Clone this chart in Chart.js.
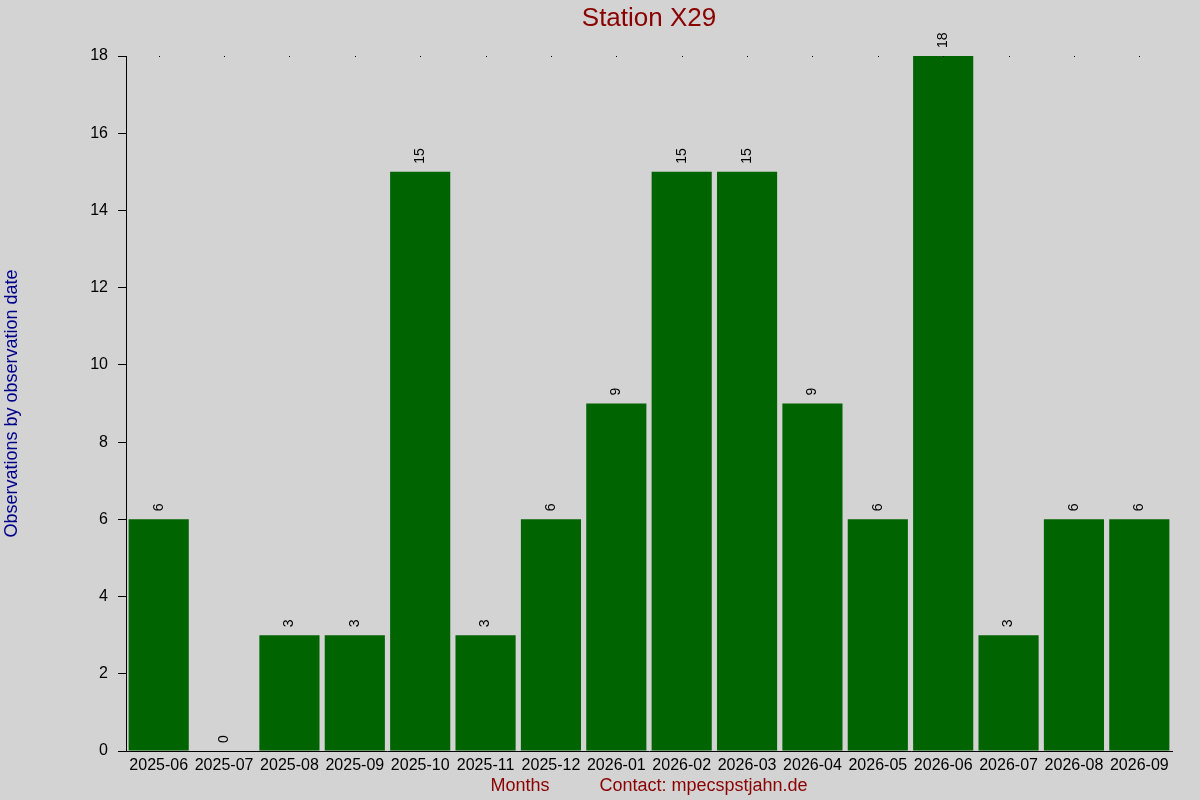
<!DOCTYPE html>
<html>
<head>
<meta charset="utf-8">
<title>Station X29</title>
<script src="https://cdn.jsdelivr.net/npm/chart.js@4.4.1/dist/chart.umd.min.js"></script>
<style>
  html, body { margin: 0; padding: 0; background: #d3d3d3; }
  #wrap { width: 1200px; height: 800px; }
</style>
</head>
<body>
<div id="wrap"><canvas id="myChart" width="1200" height="800"></canvas></div>
<script>
const months = ['2025-06', '2025-07', '2025-08', '2025-09', '2025-10', '2025-11', '2025-12', '2026-01',
                '2026-02', '2026-03', '2026-04', '2026-05', '2026-06', '2026-07', '2026-08', '2026-09'];
const observations = [6, 0, 3, 3, 15, 3, 6, 9, 15, 15, 9, 6, 18, 3, 6, 6];
const yTicks = [0, 2, 4, 6, 8, 10, 12, 14, 16, 18];

const FONT = '"Liberation Sans", Arial, sans-serif';

// value labels turned on their side above each bar
const barLabels = {
  id: 'barLabels',
  afterDatasetsDraw(chart) {
    const c = chart.ctx;
    const meta = chart.getDatasetMeta(0);
    c.save();
    c.fillStyle = '#000';
    c.font = '14px ' + FONT;
    c.textAlign = 'left';
    c.textBaseline = 'middle';
    meta.data.forEach((bar, i) => {
      c.save();
      c.translate(bar.x, bar.y - 8);
      c.rotate(-Math.PI / 2);
      c.fillText(String(observations[i]), 0, 0);
      c.restore();
    });
    c.restore();
  }
};

// little dots along the top edge, one per month, plus the x axis line running under the 0 tick
const axisBits = {
  id: 'axisBits',
  afterDraw(chart) {
    const c = chart.ctx;
    const x = chart.scales.x;
    const area = chart.chartArea;
    c.save();
    c.fillStyle = '#000';
    months.forEach((m, i) => {
      c.fillRect(Math.round(x.getPixelForValue(i)), Math.round(area.top), 1, 1);
    });
    c.fillRect(Math.round(area.left) - 8, Math.round(area.bottom), 8, 1);
    c.restore();
  }
};

new Chart(document.getElementById('myChart'), {
  type: 'bar',
  data: {
    labels: months,
    datasets: [{
      data: observations,
      backgroundColor: '#006400',
      borderWidth: 0,
      barPercentage: 0.92,
      categoryPercentage: 1.0
    }]
  },
  options: {
    responsive: false,
    animation: false,
    devicePixelRatio: 1,
    layout: { padding: { left: 0, right: 28, top: 0, bottom: 0 } },
    plugins: {
      legend: { display: false },
      tooltip: { enabled: false },
      title: {
        display: true,
        text: 'Station X29',
        color: '#8b0000',
        fullSize: false,
        font: { family: FONT, size: 26, weight: 'normal' },
        padding: { top: 3, bottom: 21.8 }
      }
    },
    scales: {
      x: {
        grid: { display: false, drawTicks: false },
        border: { display: true, color: '#000', width: 1 },
        ticks: {
          color: '#000',
          padding: 5,
          maxRotation: 0,
          autoSkip: false,
          font: { family: FONT, size: 16 }
        },
        title: {
          display: true,
          text: 'Months          Contact: mpecspstjahn.de',
          color: '#8b0000',
          font: { family: FONT, size: 18 },
          padding: { top: 4, bottom: 3 }
        },
        afterFit(scale) { scale.height = 49; }
      },
      y: {
        min: 0,
        max: 18,
        afterBuildTicks(scale) { scale.ticks = yTicks.map(v => ({ value: v })); },
        grid: { drawOnChartArea: false, drawTicks: true, tickLength: 8, color: '#000' },
        border: { display: true, color: '#000', width: 1 },
        ticks: {
          color: '#000',
          padding: 10,
          font: { family: FONT, size: 16 }
        },
        title: {
          display: true,
          text: 'Observations by observation date',
          color: '#00008b',
          font: { family: FONT, size: 18 },
          padding: { top: 1, bottom: 4 }
        },
        afterFit(scale) { scale.width = 126; }
      }
    }
  },
  plugins: [barLabels, axisBits]
});
</script>
</body>
</html>
